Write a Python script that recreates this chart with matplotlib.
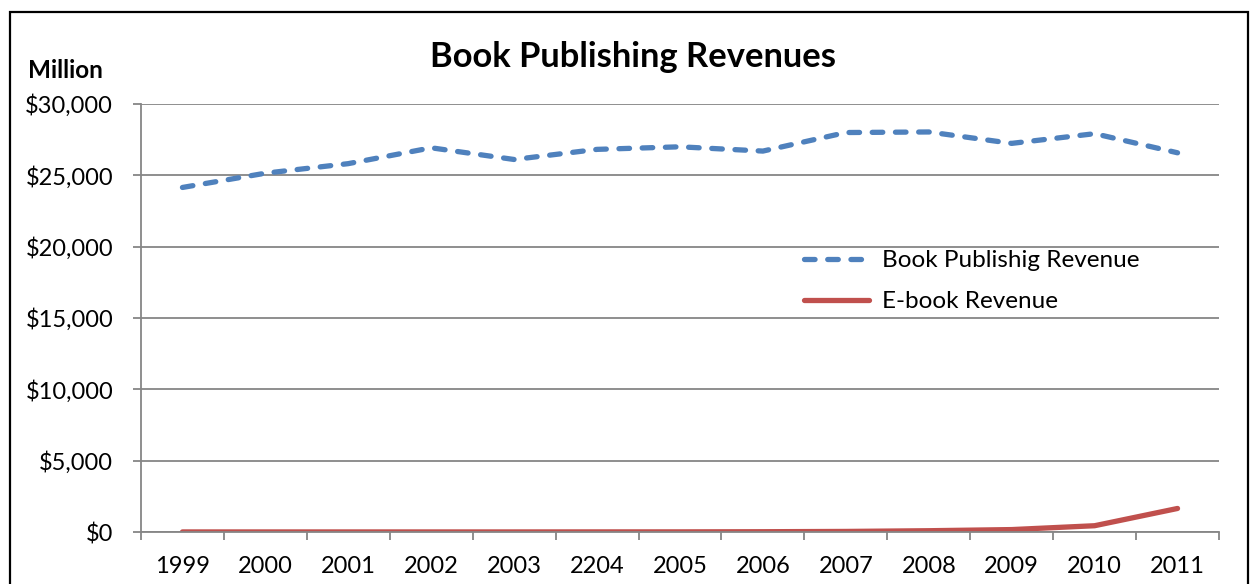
import matplotlib
matplotlib.use("Agg")
import matplotlib.pyplot as plt
from matplotlib.patches import Rectangle
from matplotlib.ticker import FuncFormatter, FixedLocator

years = ["1999", "2000", "2001", "2002", "2003", "2204", "2005",
         "2006", "2007", "2008", "2009", "2010", "2011"]
book_revenue = [24150, 25150, 25820, 26930, 26110, 26820, 27000,
                26700, 28000, 28040, 27240, 27920, 26580]
ebook_revenue = [5, 5, 5, 5, 5, 8, 10, 20, 40, 90, 170, 440, 1650]
yticks = [0, 5000, 10000, 15000, 20000, 25000, 30000]

plt.rcParams['font.family'] = ['Lato', 'DejaVu Sans']

W, H = 1251, 584
fig = plt.figure(figsize=(W / 100, H / 100), dpi=100)
ax = fig.add_axes([141 / W, 1 - 532 / H, (1219 - 141) / W, (532 - 104) / H])

grid_c = "#868686"
fs = 17
lfs = 17.5
x = list(range(len(years)))
ax.plot(x, book_revenue, color="#4F81BD", lw=3.8, dashes=(2, 2.4),
        dash_capstyle="round", solid_capstyle="round",
        label="Book Publishig Revenue")
ax.plot(x, ebook_revenue, color="#C0504D", lw=3.8, solid_capstyle="round",
        label="E-book Revenue")

ax.set_xlim(-0.5, len(years) - 0.5)
ax.set_ylim(0, 30000)
ax.set_yticks(yticks)
ax.yaxis.set_major_formatter(FuncFormatter(lambda v, p: "${:,.0f}".format(v)))
ax.yaxis.grid(True, color=grid_c, lw=1.3)
ax.set_axisbelow(True)
ax.set_xticks(x)
ax.set_xticklabels(years)
ax.xaxis.set_minor_locator(FixedLocator([i - 0.5 for i in range(len(years) + 1)]))
ax.tick_params(axis="x", which="major", length=0, pad=17, labelsize=fs)
ax.tick_params(axis="x", which="minor", length=6, width=1.3, color=grid_c)
ax.tick_params(axis="y", which="major", length=6, width=1.3, color=grid_c,
               pad=14, labelsize=fs)
for s in ["top", "right"]:
    ax.spines[s].set_visible(False)
for s in ["left", "bottom"]:
    ax.spines[s].set_color(grid_c)
    ax.spines[s].set_linewidth(1.3)

leg = ax.legend(loc="upper left", bbox_to_anchor=(804 / W, 1 - 250 / H),
                bbox_transform=fig.transFigure, frameon=False, fontsize=lfs,
                handlelength=2.67, handletextpad=0.54, labelspacing=0.84,
                borderpad=0, borderaxespad=0)

fig.text(633 / W, 1 - 57 / H, "Book Publishing Revenues", ha="center",
         va="center", fontsize=24.8, fontweight="bold")
fig.text(28 / W, 1 - 70 / H, "Million", ha="left", va="center",
         fontsize=17.5, fontweight="bold")

fig.patches.append(Rectangle((10 / W, -0.1), (1248 - 10) / W, 1.1 - 12 / H,
                             transform=fig.transFigure, fill=False,
                             edgecolor="black", lw=1.6))

fig.savefig("out.png", dpi=100)
